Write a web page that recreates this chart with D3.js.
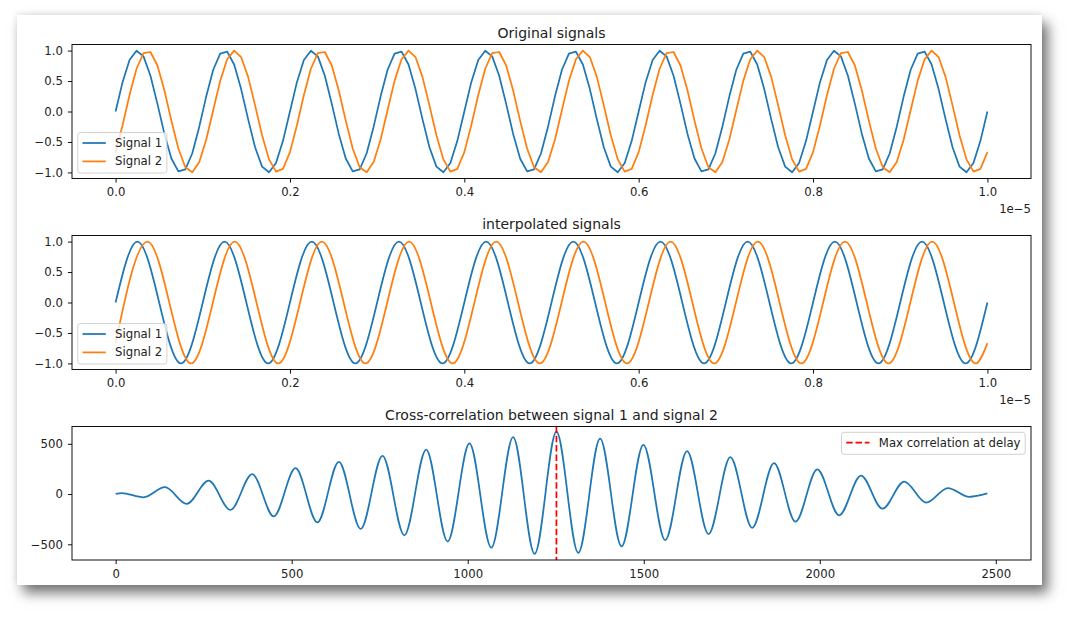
<!DOCTYPE html>
<html>
<head>
<meta charset="utf-8">
<script src="https://cdn.jsdelivr.net/npm/d3@7"></script>
<style>
  body { margin: 0; background: #fff; width: 1080px; height: 624px; overflow: hidden; }
  #card { position: absolute; left: 17px; top: 15px; width: 1025px; height: 570px; background: #fff;
          box-shadow: 6px 8px 12px rgba(0,0,0,0.55), -1px -2px 6px rgba(0,0,0,0.08); }
  #chart { position: absolute; left: 0; top: 0; }
  text { font-family: "DejaVu Sans", sans-serif; fill: #222; }
</style>
</head>
<body>
<div id="card"></div>
<div id="chart"></div>
<script>
// Signals + cross-correlation, three stacked panels

// --- DATA ---
const sampleStep = 0.008; // spacing of the original samples, in units of 1e-5 s

const origSignal1 = [
  0, 0.482, 0.844, 0.998, 0.905, 0.588, 0.125, -0.368, -0.771, -0.982, -0.951, -0.685, -0.249,
  0.249, 0.685, 0.951, 0.982, 0.771, 0.368, -0.125, -0.588, -0.905, -0.998, -0.844, -0.482,
  0, 0.482, 0.844, 0.998, 0.905, 0.588, 0.125, -0.368, -0.771, -0.982, -0.951, -0.685, -0.249,
  0.249, 0.685, 0.951, 0.982, 0.771, 0.368, -0.125, -0.588, -0.905, -0.998, -0.844, -0.482,
  0, 0.482, 0.844, 0.998, 0.905, 0.588, 0.125, -0.368, -0.771, -0.982, -0.951, -0.685, -0.249,
  0.249, 0.685, 0.951, 0.982, 0.771, 0.368, -0.125, -0.588, -0.905, -0.998, -0.844, -0.482,
  0, 0.482, 0.844, 0.998, 0.905, 0.588, 0.125, -0.368, -0.771, -0.982, -0.951, -0.685, -0.249,
  0.249, 0.685, 0.951, 0.982, 0.771, 0.368, -0.125, -0.588, -0.905, -0.998, -0.844, -0.482,
  0, 0.482, 0.844, 0.998, 0.905, 0.588, 0.125, -0.368, -0.771, -0.982, -0.951, -0.685, -0.249,
  0.249, 0.685, 0.951, 0.982, 0.771, 0.368, -0.125, -0.588, -0.905, -0.998, -0.844, -0.482,
  0
];
const origSignal2 = [
  -0.667, -0.225, 0.272, 0.702, 0.958, 0.977, 0.755, 0.345, -0.150, -0.607, -0.915, -0.996, -0.831,
  -0.460, 0.024, 0.503, 0.857, 0.999, 0.894, 0.568, 0.101, -0.391, -0.786, -0.987, -0.943,
  -0.667, -0.225, 0.272, 0.702, 0.958, 0.977, 0.755, 0.345, -0.150, -0.607, -0.915, -0.996, -0.831,
  -0.460, 0.024, 0.503, 0.857, 0.999, 0.894, 0.568, 0.101, -0.391, -0.786, -0.987, -0.943,
  -0.667, -0.225, 0.272, 0.702, 0.958, 0.977, 0.755, 0.345, -0.150, -0.607, -0.915, -0.996, -0.831,
  -0.460, 0.024, 0.503, 0.857, 0.999, 0.894, 0.568, 0.101, -0.391, -0.786, -0.987, -0.943,
  -0.667, -0.225, 0.272, 0.702, 0.958, 0.977, 0.755, 0.345, -0.150, -0.607, -0.915, -0.996, -0.831,
  -0.460, 0.024, 0.503, 0.857, 0.999, 0.894, 0.568, 0.101, -0.391, -0.786, -0.987, -0.943,
  -0.667, -0.225, 0.272, 0.702, 0.958, 0.977, 0.755, 0.345, -0.150, -0.607, -0.915, -0.996, -0.831,
  -0.460, 0.024, 0.503, 0.857, 0.999, 0.894, 0.568, 0.101, -0.391, -0.786, -0.987, -0.943,
  -0.667
];

// interpolated signals: turning points (peaks / troughs) plus both ends
const interpTimes1 = [0, 0.025, 0.075, 0.125, 0.175, 0.225, 0.275, 0.325, 0.375, 0.425, 0.475,
  0.525, 0.575, 0.625, 0.675, 0.725, 0.775, 0.825, 0.875, 0.925, 0.975, 1.0];
const interpValues1 = [0, 1, -1, 1, -1, 1, -1, 1, -1, 1, -1, 1, -1, 1, -1, 1, -1, 1, -1, 1, -1, 0];
const interpTimes2 = [0, 0.0366, 0.0866, 0.1366, 0.1866, 0.2366, 0.2866, 0.3366, 0.3866, 0.4366, 0.4866,
  0.5366, 0.5866, 0.6366, 0.6866, 0.7366, 0.7866, 0.8366, 0.8866, 0.9366, 0.9866, 1.0];
const interpValues2 = [-0.667, 1, -1, 1, -1, 1, -1, 1, -1, 1, -1, 1, -1, 1, -1, 1, -1, 1, -1, 1, -1, -0.667];

// cross-correlation: turning points
const corrLags = [0, 17, 79, 140, 202, 264, 326, 388, 449, 511, 573, 634, 696, 758, 820, 882, 943,
  1005, 1067, 1129, 1190, 1252, 1314, 1376, 1437, 1499, 1561, 1623, 1684, 1746, 1808, 1870, 1931,
  1993, 2055, 2117, 2178, 2240, 2302, 2364, 2425, 2476];
const corrValues = [2, 9, -32, 68, -98, 133, -158, 198, -222, 257, -282, 321, -346, 380, -410, 442, -472,
  503, -534, 566, -595, 620, -585, 551, -520, 490, -459, 428, -398, 368, -336, 308, -275,
  246, -211, 184, -146, 124, -85, 60, -27, 6];
const maxDelay = 1252;

const timeTicks = [0, 0.2, 0.4, 0.6, 0.8, 1.0];
const signalTicks = [-1.0, -0.5, 0, 0.5, 1.0];
const lagTicks = [0, 500, 1000, 1500, 2000, 2500];
const corrTicks = [-500, 0, 500];
const seriesNames = ["Signal 1", "Signal 2"];
const seriesColors = ["#1f77b4", "#ff7f0e"];

// --- LAYOUT ---
const width = 1080, height = 624;
const left = 72, right = 1031;
const FONT = 11.7, LW = 1.75;

const svg = d3.select("#chart").append("svg").attr("width", width).attr("height", height);

function makePanel(idx, top, bottom, title, xDomain, yDomain, xTicks, yTicks, xFmt, yFmt, offsetText) {
    const x = d3.scaleLinear().domain(xDomain).range([left, right]);
    const y = d3.scaleLinear().domain(yDomain).range([bottom, top]);

    svg.append("clipPath").attr("id", "clip" + idx)
        .append("rect").attr("x", left).attr("y", top).attr("width", right - left).attr("height", bottom - top);

    const g = svg.append("g");
    const plot = g.append("g").attr("clip-path", `url(#clip${idx})`);

    const xAxis = g.append("g").attr("transform", `translate(0,${bottom})`)
        .call(d3.axisBottom(x).tickValues(xTicks).tickFormat(xFmt).tickSize(4.1).tickPadding(5.5).tickSizeOuter(0));
    const yAxis = g.append("g").attr("transform", `translate(${left},0)`)
        .call(d3.axisLeft(y).tickValues(yTicks).tickFormat(yFmt).tickSize(4.1).tickPadding(5).tickSizeOuter(0));
    [xAxis, yAxis].forEach(a => {
        a.select(".domain").remove();
        a.selectAll("line").attr("stroke", "#000").attr("stroke-width", 0.93);
        a.selectAll("text").attr("font-size", FONT).attr("fill", "#222").style("font-family", "DejaVu Sans");
    });

    g.append("rect").attr("x", left).attr("y", top).attr("width", right - left).attr("height", bottom - top)
        .attr("fill", "none").attr("stroke", "#000").attr("stroke-width", 0.93);

    g.append("text").attr("x", (left + right) / 2).attr("y", top - 7)
        .attr("text-anchor", "middle").attr("font-size", 14).text(title);

    if (offsetText) {
        g.append("text").attr("x", right).attr("y", bottom + 34)
            .attr("text-anchor", "end").attr("font-size", FONT).text(offsetText);
    }
    return { g, plot, x, y, top, bottom };
}

function drawLegend(panel, items, corner) {
    const pad = 4.7, handle = 23.3, gap = 9.3, rowH = 18.4;
    const lg = panel.g.append("g");
    const box = lg.append("rect").attr("rx", 2.5).attr("ry", 2.5)
        .attr("fill", "#fff").attr("fill-opacity", 0.8).attr("stroke", "#ccc").attr("stroke-width", 0.9);
    let maxW = 0;
    items.forEach((it, i) => {
        const cy = pad + 5.7 + i * rowH;
        lg.append("line").attr("x1", pad).attr("x2", pad + handle).attr("y1", cy).attr("y2", cy)
            .attr("stroke", it.color).attr("stroke-width", LW)
            .attr("stroke-dasharray", it.dashed ? "6.5,2.8" : null);
        const t = lg.append("text").attr("x", pad + handle + gap).attr("y", cy).attr("dy", "0.35em")
            .attr("font-size", FONT).text(it.label);
        maxW = Math.max(maxW, t.node().getComputedTextLength());
    });
    const w = pad + handle + gap + maxW + pad;
    const h = items.length * rowH + 3.6;
    box.attr("width", w).attr("height", h);
    const bx = corner === "upper right" ? right - 5.8 - w : left + 5.8;
    const by = corner === "upper right" ? panel.top + 5.8 : panel.bottom - 5.5 - h;
    lg.attr("transform", `translate(${bx},${by})`);
}

const fmt1 = d3.format(".1f");
const fmt0 = d3.format("d");

// --- PANEL 1: original samples ---
const p1 = makePanel(1, 44.5, 178.5, "Original signals", [-0.05, 1.05], [-1.1, 1.1],
    timeTicks, signalTicks, fmt1, fmt1, "1e\u22125");
[origSignal1, origSignal2].forEach((vals, si) => {
    p1.plot.append("path").datum(vals)
        .attr("fill", "none").attr("stroke", seriesColors[si]).attr("stroke-width", LW)
        .attr("stroke-linejoin", "round")
        .attr("d", d3.line().x((d, i) => p1.x(i * sampleStep)).y(d => p1.y(d)));
});
drawLegend(p1, seriesNames.map((n, i) => ({ label: n, color: seriesColors[i] })), "lower left");

// --- PANEL 2: interpolated ---
const p2 = makePanel(2, 235.5, 369.5, "interpolated signals", [-0.05, 1.05], [-1.1, 1.1],
    timeTicks, signalTicks, fmt1, fmt1, "1e\u22125");
[[interpTimes1, interpValues1], [interpTimes2, interpValues2]].forEach(([ts, vs], si) => {
    p2.plot.append("path").datum(d3.zip(ts, vs))
        .attr("fill", "none").attr("stroke", seriesColors[si]).attr("stroke-width", LW)
        .attr("d", d3.line().curve(d3.curveMonotoneX).x(d => p2.x(d[0])).y(d => p2.y(d[1])));
});
drawLegend(p2, seriesNames.map((n, i) => ({ label: n, color: seriesColors[i] })), "lower left");

// --- PANEL 3: cross-correlation ---
const p3 = makePanel(3, 426.5, 560, "Cross-correlation between signal 1 and signal 2", [-124, 2600], [-656, 672],
    lagTicks, corrTicks, fmt0, fmt0, null);
p3.plot.append("path").datum(d3.zip(corrLags, corrValues))
    .attr("fill", "none").attr("stroke", seriesColors[0]).attr("stroke-width", LW)
    .attr("d", d3.line().curve(d3.curveMonotoneX).x(d => p3.x(d[0])).y(d => p3.y(d[1])));
p3.plot.append("line")
    .attr("x1", p3.x(maxDelay)).attr("x2", p3.x(maxDelay)).attr("y1", p3.top).attr("y2", p3.bottom)
    .attr("stroke", "#ff0000").attr("stroke-width", LW).attr("stroke-dasharray", "6.5,2.8");
drawLegend(p3, [{ label: "Max correlation at delay", color: "#ff0000", dashed: true }], "upper right");
</script>
</body>
</html>
